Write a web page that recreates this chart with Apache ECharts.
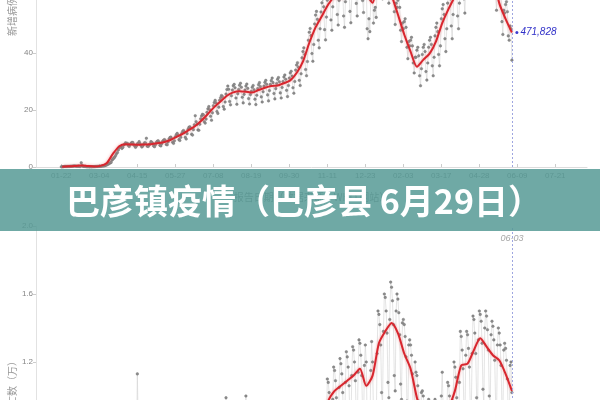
<!DOCTYPE html>
<html><head><meta charset="utf-8">
<script src="https://cdn.jsdelivr.net/npm/echarts@6/dist/echarts.min.js"></script>
<style>html,body{margin:0;padding:0;background:#fff}#c{width:600px;height:400px}</style>
</head><body><div id="c"></div>
<script>
// ---------- categories / ticks ----------
const firstDate = '2019-12-25';
const dayCount = 610;
const dataStart = '2020-01-22';   // first daily value
const avgStart = '2020-01-23';    // first 7-day-average value (every 7 days)
const markDate = '2021-06-03';
const tickDates = ['2020-01-22','2020-03-04','2020-04-15','2020-05-27','2020-07-08','2020-08-19','2020-09-30',
  '2020-11-11','2020-12-23','2021-02-03','2021-03-17','2021-04-28','2021-06-09','2021-07-21'];
const lastAvgLabel = '471,828';
const titleText = '巴彦镇疫情（巴彦县 6月29日）';
const topAxisName = '新增病例数（万）';
const bottomAxisName = '新增死亡数（万）';
const xAxisName = '报告日期（数据来源：WHO 网站）';

// ---------- daily new cases (万), from 2020-01-22 ----------
const topDaily = [
0.06,0.07,0.09,0.14,0.2,0.17,0.18,
0.18,0.2,0.2,0.25,0.27,0.28,0.32,
0.36,0.37,0.32,0.28,0.27,0.3,0.25,
0.2,1.5,0.52,0.27,0.22,0.2,0.19,
0.08,0.09,0.1,0.06,0.1,0.06,0.08,
0.1,0.12,0.13,0.16,0.19,0.2,0.22,
0.23,0.24,0.28,0.37,0.39,0.4,0.47,
0.65,0.72,0.9,1.1,1.2,1.5,1.6,
2.4,2.8,3.1,3.5,4.0,4.7,5.1,
6.0,6.8,7.1,7.0,6.5,6.9,7.7,
8.0,8.5,8.2,8.3,7.6,7.2,7.9,
8.3,8.6,8.6,7.8,7.5,6.9,7.4,
8.1,8.3,8.9,8.2,7.6,7.0,7.4,
8.0,8.5,8.4,10.1,7.3,7.2,7.7,
8.1,8.9,8.7,8.2,7.4,7.1,7.8,
8.6,9.0,9.2,8.7,7.6,7.4,8.2,
9.0,9.4,9.6,9.2,7.9,7.8,8.8,
9.8,10.3,10.5,9.9,8.7,8.3,9.2,
10.6,11.3,11.8,11.1,9.6,9.3,10.4,
11.7,12.4,12.8,12.2,10.4,9.8,11.7,
13.2,13.9,14.1,13.6,11.5,11.2,13.1,
14.8,18.0,15.9,15.0,13.0,12.9,15.0,
16.9,17.9,18.5,18.3,15.9,15.4,16.8,
19.2,20.4,21.2,20.1,17.8,16.4,19.0,
21.5,22.6,23.4,22.5,19.5,18.8,21.0,
23.4,24.3,25.1,24.7,21.2,20.3,22.8,
25.6,27.2,28.4,27.3,23.0,21.8,25.0,
27.0,28.5,29.0,27.8,24.2,22.0,25.7,
27.2,28.7,29.4,28.0,24.5,22.5,25.5,
27.0,28.4,29.1,27.6,24.0,22.1,25.4,
26.6,28.0,28.6,27.1,23.8,21.9,25.2,
27.5,28.9,29.6,28.2,24.6,22.8,26.4,
28.4,29.7,30.4,29.0,25.3,23.2,26.8,
29.0,30.3,31.2,29.6,25.8,23.9,27.5,
29.3,30.8,31.4,29.9,26.0,24.2,27.9,
30.0,31.6,32.3,30.8,26.9,24.7,28.6,
31.2,33.0,33.6,31.9,27.8,25.9,30.0,
34.0,35.8,36.6,35.0,30.4,28.6,32.7,
38.3,40.5,41.8,39.5,34.2,32.0,37.0,
44.5,47.3,48.6,46.1,39.8,37.1,43.0,
50.2,53.3,54.6,51.8,44.5,41.8,48.5,
54.4,57.6,59.0,56.2,48.2,44.6,52.6,
58.5,61.8,63.5,60.6,51.6,48.0,56.2,
61.0,64.5,66.0,62.5,53.5,49.8,58.4,
60.8,63.6,65.2,61.6,53.0,49.0,58.0,
62.0,65.5,67.3,63.5,54.6,50.6,59.6,
65.0,68.8,70.6,66.8,57.4,53.0,62.4,
66.2,70.0,71.8,68.0,58.4,54.2,63.6,
64.5,66.0,48.5,45.0,52.0,47.5,58.5,
62.0,60.5,50.5,55.0,56.0,52.5,63.0,
72.5,76.0,78.5,74.0,63.5,59.0,68.5,
72.0,75.5,77.5,73.0,62.5,57.5,66.5,
63.5,66.5,67.5,63.5,54.5,50.0,57.5,
56.0,58.5,59.5,56.0,48.0,44.0,50.5,
48.5,51.0,52.0,49.0,42.0,38.0,44.0,
42.5,44.5,45.5,42.5,36.5,33.0,38.5,
38.5,41.0,42.0,39.0,32.0,28.5,34.5,
39.5,42.0,43.0,40.5,33.5,30.5,36.5,
42.0,44.5,45.5,43.0,35.5,32.0,38.5,
46.0,49.0,50.5,47.5,39.5,35.5,42.5,
52.0,55.5,57.0,53.5,45.0,40.5,48.5,
57.5,61.5,63.0,59.0,49.5,45.0,53.5,
62.0,66.0,67.5,63.5,53.0,48.5,57.5,
69.0,73.0,75.0,70.5,59.0,54.0,64.0,
77.0,82.0,84.0,79.0,66.0,60.0,71.5,
83.0,88.0,90.0,85.0,71.0,65.0,77.0,
84.0,89.0,91.0,86.0,72.0,65.5,77.5,
80.0,84.5,86.5,81.5,68.0,62.0,73.5,
71.0,75.0,76.5,72.0,60.5,55.0,65.0,
60.0,63.5,65.0,61.0,51.0,46.5,55.0,
54.0,57.0,58.0,54.5,46.0,44.5,49.5,
48.5,37.5];

// ---------- 7-day average new cases (万), every 7 days from 2020-01-23 ----------
const topAvg = [0.1,0.25,0.35,0.55,0.35,0.2,0.4,1.3,4.6,7.3,8.0,7.9,7.8,7.9,8.0,8.3,8.7,9.4,10.5,11.6,
13.0,14.4,16.3,18.6,21.0,23.0,25.0,26.2,26.6,26.4,26.1,27.0,27.8,28.4,28.6,29.4,30.4,33.0,37.0,43.5,
49.0,53.0,57.0,59.5,59.3,60.5,63.5,64.5,61.0,57.6,68.0,70.0,60.5,53.5,46.5,40.5,35.2,37.6,39.8,44.0,
50.5,55.5,60.0,66.0,74.0,80.0,81.0,77.0,68.0,57.5,52.0,47.2];

// ---------- daily new deaths (万), from 2020-01-22 ----------
const bottomDaily = [
0.002,0.001,0.003,0.002,0.002,0.002,0.003,
0.003,0.004,0.004,0.005,0.005,0.006,0.006,
0.007,0.007,0.009,0.009,0.009,0.011,0.011,
0.01,0.025,0.013,0.014,0.014,0.011,0.01,
0.013,0.012,0.012,0.011,0.01,0.015,0.007,
0.005,0.004,0.004,0.005,0.006,0.004,0.007,
0.005,0.006,0.008,0.008,0.01,0.013,0.016,
0.022,0.035,0.034,0.04,0.044,0.06,0.06,
0.08,0.09,0.1,0.13,0.16,0.18,0.2,
0.25,0.28,0.32,0.35,0.32,0.35,0.45,
0.5,0.52,0.56,0.6,0.5,0.45,0.58,
0.68,0.72,0.75,0.68,0.56,0.48,0.62,
1.13,0.82,0.74,0.7,0.55,0.45,0.62,
0.72,0.7,0.7,0.62,0.5,0.42,0.6,
0.66,0.64,0.6,0.55,0.45,0.38,0.55,
0.6,0.6,0.56,0.52,0.4,0.36,0.5,
0.55,0.54,0.5,0.46,0.36,0.32,0.46,
0.5,0.5,0.47,0.43,0.34,0.3,0.43,
0.5,0.5,0.47,0.43,0.34,0.3,0.43,
0.52,0.5,0.48,0.42,0.33,0.3,0.42,
0.5,0.48,0.46,0.42,0.33,0.3,0.44,
0.7,0.52,0.48,0.44,0.34,0.3,0.44,
0.52,0.52,0.5,0.45,0.35,0.3,0.46,
0.55,0.55,0.52,0.47,0.36,0.33,0.5,
0.58,0.58,0.55,0.5,0.4,0.36,0.52,
0.62,0.62,0.58,0.54,0.42,0.38,0.55,
0.99,0.66,0.62,0.57,0.45,0.4,0.58,
0.68,0.67,0.63,0.58,0.46,0.41,0.6,
0.7,0.68,0.64,0.59,0.46,0.41,0.6,
0.69,1.0,0.63,0.58,0.45,0.41,0.6,
0.68,0.66,0.62,0.56,0.45,0.4,0.58,
0.66,0.64,0.6,0.55,0.44,0.4,0.57,
0.65,0.63,0.59,0.54,0.43,0.39,0.56,
0.64,0.62,0.58,0.53,0.42,0.38,0.55,
0.63,0.61,0.57,0.52,0.42,0.38,0.55,
0.64,0.62,0.58,0.53,0.42,0.39,0.56,
0.64,0.62,0.58,0.53,0.42,0.39,0.56,
0.64,0.63,0.59,0.54,0.43,0.39,0.57,
0.66,0.65,0.61,0.56,0.45,0.41,0.6,
0.72,0.71,0.67,0.61,0.49,0.44,0.65,
0.81,0.8,0.76,0.69,0.55,0.5,0.73,
0.93,0.92,0.87,0.79,0.63,0.57,0.84,
1.1,1.08,1.02,0.93,0.74,0.67,0.98,
1.17,1.15,1.09,0.99,0.79,0.72,1.05,
1.22,1.19,1.13,1.02,0.82,0.74,1.08,
1.26,1.23,1.17,1.06,0.85,0.77,1.12,
1.29,1.27,1.2,1.09,0.87,0.79,1.14,
1.33,1.31,1.24,1.12,0.9,0.82,1.18,
1.3,1.2,0.85,0.8,0.82,0.78,1.15,
1.32,1.2,0.9,0.88,0.85,0.8,1.25,
1.5,1.48,1.42,1.3,1.02,0.95,1.38,
1.6,1.58,1.5,1.37,1.08,0.99,1.45,
1.67,1.64,1.56,1.42,1.12,1.03,1.5,
1.6,1.57,1.49,1.36,1.07,0.98,1.43,
1.45,1.42,1.35,1.23,0.97,0.89,1.3,
1.33,1.3,1.24,1.13,0.88,0.81,1.2,
1.14,1.12,1.06,0.97,0.76,0.7,1.02,
1.03,1.0,0.95,0.87,0.68,0.62,0.92,
0.98,0.96,0.9,0.82,0.65,0.59,0.88,
0.98,0.96,0.9,0.82,0.65,0.59,0.88,
1.0,1.14,0.93,0.85,0.67,0.61,0.9,
1.08,1.06,1.0,0.91,0.72,0.66,0.97,
1.2,1.17,1.11,0.99,0.8,0.72,1.08,
1.38,1.35,1.27,1.16,0.92,0.84,1.24,
1.38,1.36,1.28,1.17,0.93,0.85,1.25,
1.47,1.45,1.37,1.25,0.99,0.9,1.33,
1.5,1.48,1.44,1.31,1.04,0.95,1.4,
1.5,1.47,1.39,1.27,1.0,0.92,1.36,
1.44,1.41,1.33,1.21,0.96,0.88,1.3,
1.4,1.37,1.3,1.18,0.94,0.86,1.27,
1.31,1.28,1.21,1.1,0.87,0.8,1.18,
1.2,1.02];

// ---------- 7-day average new deaths (万), every 7 days from 2020-01-23 ----------
const bottomAvg = [0.002,0.004,0.007,0.01,0.012,0.006,0.008,0.03,0.08,0.2,0.42,0.62,0.72,0.66,0.6,0.55,0.5,0.46,0.45,0.45,
0.44,0.46,0.46,0.48,0.51,0.54,0.58,0.6,0.6,0.6,0.59,0.57,0.56,0.55,0.54,0.55,0.55,0.55,0.57,0.62,
0.7,0.8,0.97,1.03,1.06,1.09,1.12,1.16,1.06,1.12,1.31,1.38,1.43,1.37,1.25,1.16,0.99,0.88,0.84,0.84,
0.86,0.93,1.03,1.18,1.19,1.27,1.34,1.29,1.24,1.21,1.13,1.03];

// ---------- build category list and aligned series ----------
const categories = [];
(function () {
  const t0 = Date.parse(firstDate + 'T00:00:00Z');
  for (let i = 0; i < dayCount; i++) {
    categories.push(new Date(t0 + i * 86400000).toISOString().slice(0, 10));
  }
})();
function place(values, startDate, step) {
  const arr = new Array(categories.length).fill(null);
  const s = categories.indexOf(startDate);
  values.forEach((v, i) => { arr[s + i * step] = v; });
  return arr;
}
const showTick = (idx, val) => tickDates.indexOf(val) >= 0;

const gray = '#858585';
const latin = '"Liberation Sans", Arial, sans-serif';
function xAxisCfg(gi, withName) {
  return {
    type: 'category', gridIndex: gi, data: categories, boundaryGap: false,
    axisLine: { lineStyle: { color: '#dcdcdc' } },
    axisTick: { interval: showTick, inside: true, length: 3, lineStyle: { color: '#ccc' } },
    axisLabel: { interval: showTick, formatter: v => v.slice(5), fontSize: 8, color: gray, margin: 5,
      fontFamily: latin },
    splitLine: { show: false },
    name: withName ? xAxisName : '', nameLocation: 'middle', nameGap: 25, nameMoveOverlap: false,
    nameTextStyle: { fontSize: 10, color: '#8f8f8f', fontFamily: 'Noto Sans CJK SC' }
  };
}
function yAxisCfg(gi, max, interval, name, fmt) {
  return {
    type: 'value', gridIndex: gi, min: 0, max: max, interval: interval,
    axisLine: { show: true, lineStyle: { color: '#e2e2e2' } },
    axisTick: { show: true, length: 3, lineStyle: { color: '#ccc' } },
    axisLabel: { fontSize: 8, color: gray, margin: 3, formatter: fmt, fontFamily: latin },
    splitLine: { show: false },
    name: name, nameLocation: 'middle', nameGap: 19, nameRotate: 90, nameMoveOverlap: false,
    nameTextStyle: { fontSize: 10, color: '#999', fontFamily: 'Noto Sans CJK SC' }
  };
}
function dailySeries(xi, data, markLabel) {
  return {
    type: 'line', xAxisIndex: xi, yAxisIndex: xi, data: data, z: 2,
    symbol: 'circle', symbolSize: 2.6, showAllSymbol: true, connectNulls: false,
    lineStyle: { width: 0.6, color: '#d2d2d2' },
    itemStyle: { color: '#8c8c8c', borderColor: '#6e6e6e', borderWidth: 0.4 },
    markLine: {
      silent: true, symbol: 'none', animation: false,
      lineStyle: { type: [2, 2], color: '#9ea6e0', width: 1 },
      label: markLabel ? { show: true, position: 'end', formatter: markLabel, color: '#a8a8a8',
        fontStyle: 'italic', fontSize: 9, distance: -17, fontFamily: latin } : { show: false },
      data: [{ xAxis: markDate }]
    }
  };
}
function avgSeries(xi, data) {
  return {
    type: 'line', xAxisIndex: xi, yAxisIndex: xi, data: data, z: 3,
    connectNulls: true, showSymbol: false, smooth: 0.25,
    lineStyle: { width: 2, color: '#d8262e', shadowColor: 'rgba(235,90,90,0.55)', shadowBlur: 3 }
  };
}

const topAvgData = place(topAvg, avgStart, 7);
const topAvgSeries = avgSeries(0, topAvgData);
topAvgSeries.markPoint = {
  silent: true, animation: false,
  data: [{ coord: [markDate, topAvg[topAvg.length - 1]], symbol: 'circle', symbolSize: 3,
    symbolOffset: [5, 0], itemStyle: { color: '#3b3bd0' },
    label: { show: true, position: 'right', distance: 2, formatter: lastAvgLabel, color: '#3030c8',
      fontStyle: 'italic', fontSize: 10, fontFamily: latin } }]
};

const chart = echarts.init(document.getElementById('c'), null, { renderer: 'canvas' });
chart.setOption({
  animation: false,
  backgroundColor: '#ffffff',
  grid: [
    { left: 36, right: 13, top: -175, height: 342, containLabel: false, outerBoundsMode: 'none' },
    { left: 36, right: 13, top: 226, height: 340, containLabel: false, outerBoundsMode: 'none' }
  ],
  xAxis: [xAxisCfg(0, true), xAxisCfg(1, false)],
  yAxis: [
    yAxisCfg(0, 120, 20, topAxisName, v => String(v)),
    yAxisCfg(1, 2, 0.4, bottomAxisName, v => v.toFixed(1))
  ],
  series: [
    dailySeries(0, place(topDaily, dataStart, 1), null),
    topAvgSeries,
    dailySeries(1, place(bottomDaily, dataStart, 1), '06-03'),
    avgSeries(1, place(bottomAvg, avgStart, 7))
  ],
  graphic: [
    { type: 'rect', left: 0, top: 169, z: 100, silent: true,
      shape: { width: 600, height: 62 }, style: { fill: 'rgba(86,154,149,0.85)' } },
    { type: 'text', z: 101, silent: true, x: 304, y: 201,
      style: { text: titleText, fill: '#ffffff', align: 'center', verticalAlign: 'middle',
        font: 'bold 34px "Noto Sans CJK SC"' } }
  ]
});
</script></body></html>
